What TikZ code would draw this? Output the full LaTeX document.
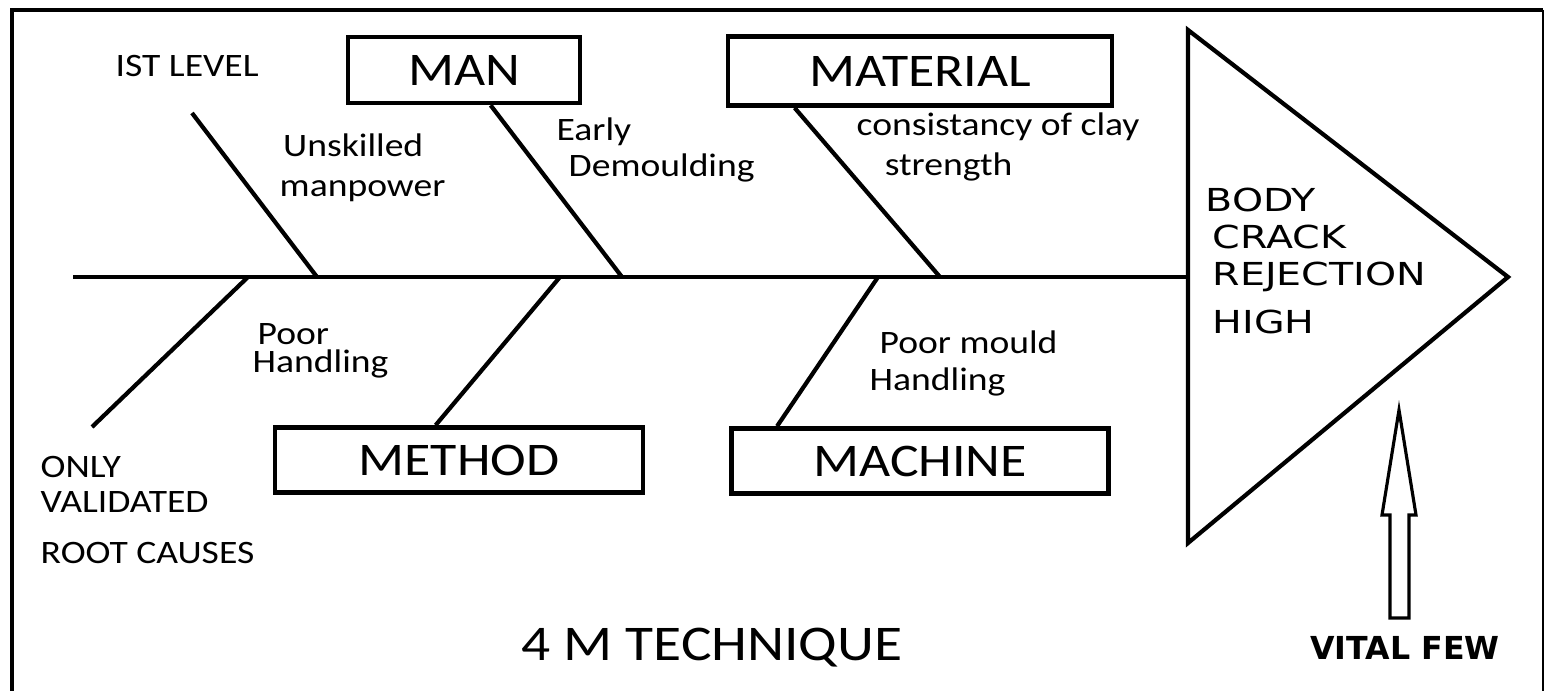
\documentclass[tikz,border=0pt]{standalone}
\usepackage{fontspec}
\setmainfont{Carlito}[FakeStretch=1.15]
\newfontfamily\verd{DejaVu Sans}[FakeStretch=1.25]
\newfontfamily\verdb{DejaVu Sans Bold}
\usepackage{tikz}
\usetikzlibrary{positioning, calc}
\tikzset{
  catbox/.style ={rectangle, draw=black, line width=1.3pt, inner sep=0pt,
                  font=\fontsize{13.3}{15}\selectfont, text=black},
  bone/.style   ={line width=1.2pt, black},
  cause/.style  ={align=left, anchor=west, inner sep=0pt,
                  font=\fontsize{9.3}{11}\selectfont, text=black},
  note/.style   ={align=left, anchor=west, inner sep=0pt,
                  font=\fontsize{9.3}{10}\selectfont, text=black}
}

\begin{document}
\begin{tikzpicture}[x=0.01cm, y=-0.01cm, line join=miter]
\useasboundingbox (0,0) rectangle (1545,691);
% frame
\draw[line width=1.2pt] (12,700) -- (12,10) -- (1543,10);
\draw[line width=0.6pt] (1543,10) -- (1543,700);

% head of the fish
\coordinate (ta) at (1188,30);
\coordinate (tb) at (1188,543);
\coordinate (tip) at (1508,277);
\draw[line width=1.2pt] (ta) -- (tip) -- (tb) -- cycle;
\node[anchor=north west, inner sep=0pt, align=left,
      font=\verd\fontsize{9}{10.6}\selectfont] (effect) at (1205,187)
  {BODY\\ \hspace*{2pt}CRACK\\ \hspace*{2pt}REJECTION\\[3pt] \hspace*{2pt}HIGH};

% spine
\coordinate (tail) at (73,277);
\coordinate (head) at (1188,277);
\draw[line width=1.1pt] (tail) -- (head);

% categories
\node[catbox, minimum width=2.32cm, minimum height=0.66cm] (man)      at (464,70)  {MAN};
\node[catbox, minimum width=3.84cm, minimum height=0.69cm] (material) at (920,71)  {MATERIAL};
\node[catbox, minimum width=3.68cm, minimum height=0.65cm] (method)   at (459,460) {METHOD};
\node[catbox, minimum width=3.77cm, minimum height=0.65cm] (machine)  at (920,461) {MACHINE};

% points on the spine
\coordinate (s1) at (317,277);
\coordinate (s2) at (622,277);
\coordinate (s3) at (940,277);
\coordinate (s4) at (248,277);
\coordinate (s5) at (560,277);
\coordinate (s6) at (878,277);
\coordinate (b1) at (192,113);
\coordinate (b4) at (92,427);

% bones
\draw[bone] (b1) -- (s1);
\draw[bone] ($(man.south west)+(145,0)$) -- (s2);
\draw[bone] ($(material.south west)+(69,0)$) -- (s3);
\draw[bone] (b4) -- (s4);
\draw[bone] ($(method.north west)+(163,0)$) -- (s5);
\draw[bone] ($(machine.north west)+(48,0)$) -- (s6);

% causes
\node[cause] (lvl) at (115,66) {IST LEVEL};
\node[cause, font=\fontsize{9.3}{11.4}\selectfont] (unsk) at (279,168) {\hspace*{1pt}Unskilled\\manpower};
\node[cause, font=\fontsize{9.3}{10.4}\selectfont] (early) at (556,150) {Early\\\hspace*{3.4pt}Demoulding};
\node[cause, font=\fontsize{9.3}{11.4}\selectfont] (clay) at (856,147) {consistancy of clay\\\hspace*{8pt}strength};
\node[cause, font=\fontsize{9.3}{8}\selectfont] (poor) at (252,351) {\hspace*{1.4pt}Poor\\Handling};
\node[cause, font=\fontsize{9.3}{10.5}\selectfont] (mould) at (869,363) {\hspace*{2.8pt}Poor mould\\Handling};

% notes
\node[note] (valid) at (40,510) {ONLY\\VALIDATED\\[4.5pt]ROOT CAUSES};
\node[font=\fontsize{14.2}{16}\selectfont, inner sep=0pt] (title) at (712,648) {4 M TECHNIQUE};

% vital few
\draw[line width=0.9pt] (1399,410) -- (1416,515) -- (1409,515) -- (1409,618)
  -- (1390,618) -- (1390,515) -- (1382,515) -- cycle;
\node[font=\verdb\fontsize{9}{10}\selectfont, inner sep=0pt] (vital) at (1405,648) {VITAL FEW};
\end{tikzpicture}
\end{document}
